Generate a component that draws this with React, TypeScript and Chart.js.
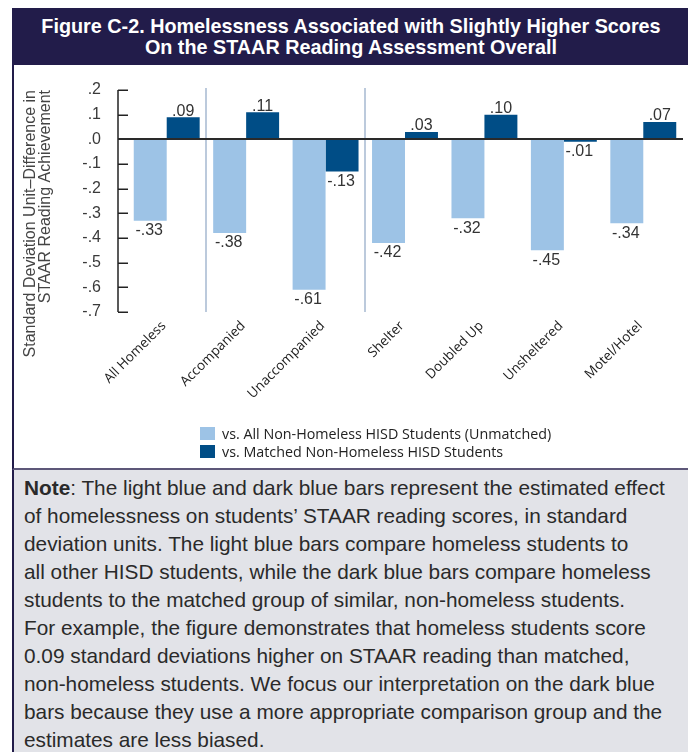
import React, { useEffect, useRef } from 'react';
import { Chart, registerables } from 'chart.js';

Chart.register(...registerables);

const titleLines = [
  'Figure C-2. Homelessness Associated with Slightly Higher Scores',
  'On the STAAR Reading Assessment Overall',
];
const categories = ['All Homeless', 'Accompanied', 'Unaccompanied', 'Shelter', 'Doubled Up', 'Unsheltered', 'Motel/Hotel'];
const unmatchedValues = [-0.33, -0.38, -0.61, -0.42, -0.32, -0.45, -0.34];
const matchedValues = [0.09, 0.11, -0.13, 0.03, 0.10, -0.01, 0.07];
const seriesLabels = ['vs. All Non-Homeless HISD Students (Unmatched)', 'vs. Matched Non-Homeless HISD Students'];
const seriesColors = ['#9dc3e6', '#004d86'];
const yTitleLines = ['Standard Deviation Unit\u2013Difference in', 'STAAR Reading Achievement'];
const separatorsAfter = [0, 2];
const yMin = -0.7;
const yMax = 0.2;
const yStep = 0.1;
const noteLines = [
  'The light blue and dark blue bars represent the estimated effect',
  'of homelessness on students\u2019 STAAR reading scores, in standard',
  'deviation units. The light blue bars compare homeless students to',
  'all other HISD students, while the dark blue bars compare homeless',
  'students to the matched group of similar, non-homeless students.',
  'For example, the figure demonstrates that homeless students score',
  '0.09 standard deviations higher on STAAR reading than matched,',
  'non-homeless students. We focus our interpretation on the dark blue',
  'bars because they use a more appropriate comparison group and the',
  'estimates are less biased.',
];

const NAVY = '#221c4a';
const SANS = '"Liberation Sans", Arial, Helvetica, sans-serif';
const LEGEND_FONT = '"Open Sans", "Noto Sans", sans-serif';

function fmt(v: number, d: number): string {
  const s = Math.abs(v).toFixed(d).replace(/^0/, '');
  return (v < -1e-9 ? '-' : '') + s;
}

const decorPlugin = {
  id: 'decor',
  afterDatasetsDraw(chart: any) {
    const { ctx, chartArea, scales } = chart;
    const x = scales.x;
    const y = scales.y;
    const axisX = chartArea.left - 9;
    const yTop = y.getPixelForValue(yMax);
    const yBot = y.getPixelForValue(yMin);
    ctx.save();
    // separators
    ctx.strokeStyle = '#bccadc';
    ctx.lineWidth = 2;
    separatorsAfter.forEach((i) => {
      const sx = Math.round((x.getPixelForValue(i) + x.getPixelForValue(i + 1)) / 2);
      ctx.beginPath();
      ctx.moveTo(sx, yTop - 2);
      ctx.lineTo(sx, yBot);
      ctx.stroke();
    });
    // y axis line and tick marks
    ctx.strokeStyle = '#222222';
    ctx.lineWidth = 1.5;
    ctx.beginPath();
    ctx.moveTo(axisX, yTop);
    ctx.lineTo(axisX, yBot);
    ctx.stroke();
    y.ticks.forEach((t: any) => {
      const py = Math.round(y.getPixelForValue(t.value)) + 0.25;
      ctx.beginPath();
      ctx.moveTo(axisX, py);
      ctx.lineTo(axisX + 10, py);
      ctx.stroke();
    });
    // zero line
    ctx.lineWidth = 2;
    ctx.strokeStyle = '#2a2a2a';
    const zy = Math.round(y.getPixelForValue(0));
    ctx.beginPath();
    ctx.moveTo(axisX, zy);
    ctx.lineTo(chartArea.right, zy);
    ctx.stroke();
    // data labels
    ctx.font = '16px ' + SANS;
    ctx.fillStyle = '#333333';
    ctx.textAlign = 'center';
    chart.data.datasets.forEach((ds: any, di: number) => {
      const meta = chart.getDatasetMeta(di);
      meta.data.forEach((bar: any, i: number) => {
        const v = ds.data[i];
        const label = fmt(v, 2);
        if (v >= 0) {
          ctx.textBaseline = 'bottom';
          ctx.fillText(label, bar.x, bar.y + 2);
        } else {
          ctx.textBaseline = 'top';
          ctx.fillText(label, bar.x - 1, bar.y + 2);
        }
      });
    });
    ctx.restore();
  },
};

function BarChart() {
  const ref = useRef<HTMLCanvasElement | null>(null);
  useEffect(() => {
    if (!ref.current) return;
    const chart = new Chart(ref.current, {
      type: 'bar',
      data: {
        labels: categories,
        datasets: [
          {
            label: seriesLabels[0],
            data: unmatchedValues,
            backgroundColor: seriesColors[0],
            categoryPercentage: 0.83,
            barPercentage: 1,
          },
          {
            label: seriesLabels[1],
            data: matchedValues,
            backgroundColor: seriesColors[1],
            categoryPercentage: 0.83,
            barPercentage: 1,
          },
        ],
      },
      options: {
        responsive: false,
        animation: false,
        devicePixelRatio: 1,
        layout: { padding: { left: 0, right: 5, top: 25, bottom: 0 } },
        plugins: {
          legend: { display: false },
          tooltip: { enabled: false },
          title: { display: false },
        },
        scales: {
          x: {
            grid: { display: false, drawTicks: false },
            border: { display: false },
            ticks: {
              autoSkip: false,
              maxRotation: 45,
              minRotation: 45,
              padding: 6,
              labelOffset: -3,
              color: '#222222',
              font: { family: LEGEND_FONT, size: 13.5 },
            },
            afterFit: (s: any) => {
              s.height = 156;
            },
          },
          y: {
            min: yMin,
            max: yMax,
            grid: { display: false, drawTicks: true, tickLength: 24 },
            border: { display: false },
            ticks: {
              stepSize: yStep,
              padding: 2,
              color: '#3a3a3a',
              font: { family: SANS, size: 16 },
              callback: (v: any) => fmt(Number(v), 1),
            },
            title: {
              display: true,
              text: yTitleLines,
              align: 'end',
              color: '#444444',
              font: { family: SANS, size: 16, lineHeight: 0.95 },
              padding: { top: 9, bottom: 0 },
            },
            afterFit: (s: any) => {
              s.width = 113;
            },
          },
        },
      },
      plugins: [decorPlugin],
    } as any);
    return () => chart.destroy();
  }, []);
  return <canvas ref={ref} width={674} height={403} style={{ display: 'block', width: 674, height: 403 }} />;
}

export default function App() {
  return (
    <div style={{ marginLeft: 4, width: 678, fontFamily: SANS }}>
      <div
        style={{
          height: 57,
          background: NAVY,
          color: '#ffffff',
          fontWeight: 'bold',
          fontSize: 19.8,
          lineHeight: '21px',
          textAlign: 'center',
          paddingTop: 8,
          boxSizing: 'border-box',
          fontFamily: SANS,
        }}
      >
        {titleLines.map((t, i) => (
          <div key={i} style={{ whiteSpace: 'nowrap' }}>{t}</div>
        ))}
      </div>
      <div
        style={{
          position: 'relative',
          height: 403,
          background: '#ffffff',
          borderLeft: '2px solid ' + NAVY,
          borderRight: '2px solid ' + NAVY,
          borderBottom: '2px solid #5d5779',
        }}
      >
        <BarChart />
        <div style={{ position: 'absolute', left: 186, top: 359, fontFamily: LEGEND_FONT, fontSize: 14.3, color: '#222' }}>
          {seriesLabels.map((s, i) => (
            <div key={i} style={{ display: 'flex', alignItems: 'center', height: 18 }}>
              <span style={{ display: 'inline-block', width: 15, height: 13, background: seriesColors[i], marginRight: 7 }} />
              <span style={{ whiteSpace: 'nowrap' }}>{s}</span>
            </div>
          ))}
        </div>
      </div>
      <div
        style={{
          background: '#e2e3e8',
          borderLeft: '2px solid ' + NAVY,
          borderRight: '2px solid ' + NAVY,
          padding: '4px 10px 20px 10px',
          fontSize: 20.8,
          lineHeight: '28px',
          color: '#2a2a2a',
          fontFamily: SANS,
          minHeight: 300,
          boxSizing: 'border-box',
        }}
      >
        {noteLines.map((t, i) => (
          <div key={i} style={{ whiteSpace: 'nowrap' }}>
            {i === 0 ? <b>Note</b> : null}
            {i === 0 ? ': ' : null}
            {t}
          </div>
        ))}
      </div>
    </div>
  );
}
